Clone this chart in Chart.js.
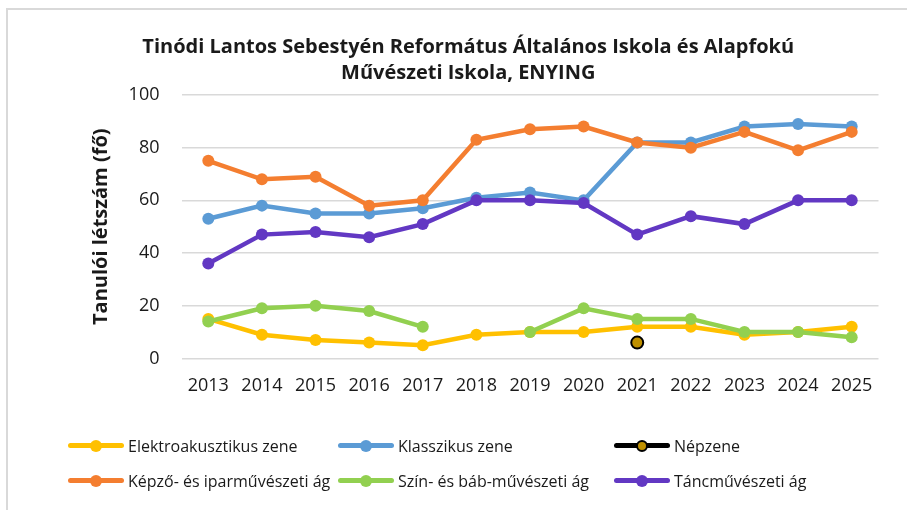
<!DOCTYPE html>
<html>
<head>
<meta charset="utf-8">
<script src="https://cdn.jsdelivr.net/npm/chart.js@4"></script>
<style>
    body { margin: 0; background: #fff; font-family: "Open Sans", sans-serif; }
    #wrap { position: relative; width: 907px; height: 510px; }
    #frame { position: absolute; left: 6px; top: 8px; right: 0; bottom: 0;
             border-left: 2px solid #d9d9d9; border-top: 2px solid #d9d9d9; }
    #myChart { position: absolute; left: 0; top: 0; }
    #legend { position: absolute; left: 68px; top: 428px; display: grid;
              grid-template-columns: 270px 276px auto; grid-auto-rows: 35px; }
    .item { display: flex; align-items: center; font-size: 16px; color: #1a1a1a; }
    .mark { position: relative; width: 56px; height: 14px; margin-right: 4px; }
    .mark .ln { position: absolute; left: 0; right: 0; top: 4.5px; height: 5px; border-radius: 3px; }
    .mark .dt { position: absolute; left: 22px; top: 1px; width: 12px; height: 12px; border-radius: 50%; box-sizing: border-box; }
</style>
</head>
<body>
<div id="wrap">
    <div id="frame"></div>
    <canvas id="myChart" width="907" height="510"></canvas>
    <div id="legend"></div>
</div>
<script>
var years = ['2013', '2014', '2015', '2016', '2017', '2018', '2019', '2020', '2021', '2022', '2023', '2024', '2025'];
var elektro   = [15, 9, 7, 6, 5, 9, 10, 10, 12, 12, 9, 10, 12];
var klasszikus = [53, 58, 55, 55, 57, 61, 63, 60, 82, 82, 88, 89, 88];
var nepzene   = [null, null, null, null, null, null, null, null, 6, null, null, null, null];
var kepzo     = [75, 68, 69, 58, 60, 83, 87, 88, 82, 80, 86, 79, 86];
var szin      = [14, 19, 20, 18, 12, null, 10, 19, 15, 15, 10, 10, 8];
var tanc      = [36, 47, 48, 46, 51, 60, 60, 59, 47, 54, 51, 60, 60];
var yTicks = [0, 20, 40, 60, 80, 100];

function series(label, data, color, order) {
    return {
        label: label,
        data: data,
        borderColor: color,
        backgroundColor: color,
        pointBackgroundColor: color,
        pointBorderColor: color,
        borderWidth: 4.5,
        pointRadius: 6,
        pointBorderWidth: 0,
        spanGaps: false,
        order: order
    };
}

var nep = series('Népzene', nepzene, '#000000', 4);
nep.pointBackgroundColor = '#BF9000';
nep.pointBorderColor = '#000000';
nep.pointBorderWidth = 2;
nep.pointRadius = 6;

var ctx = document.getElementById('myChart').getContext('2d');
var chart = new Chart(ctx, {
    type: 'line',
    data: {
        labels: years,
        datasets: [
            series('Elektroakusztikus zene', elektro, '#FFC000', 6),
            series('Klasszikus zene', klasszikus, '#5B9BD5', 5),
            nep,
            series('Képző- és iparművészeti ág', kepzo, '#F47E30', 3),
            series('Szín- és báb-művészeti ág', szin, '#92D050', 2),
            series('Táncművészeti ág', tanc, '#6238C3', 1)
        ]
    },
    options: {
        responsive: false,
        animation: false,
        layout: { padding: { left: 58, right: 28.5, top: 34, bottom: 104 } },
        plugins: {
            legend: { display: false },
            tooltip: { enabled: false },
            title: {
                display: true,
                text: ['Tinódi Lantos Sebestyén Református Általános Iskola és Alapfokú', 'Művészeti Iskola, ENYING'],
                color: '#1a1a1a',
                font: { family: 'Open Sans', size: 20, weight: 'bold', lineHeight: 1.3 },
                padding: { top: 0, bottom: 9 }
            }
        },
        scales: {
            x: {
                offset: true,
                grid: { display: false },
                border: { display: false },
                ticks: { color: '#1a1a1a', font: { family: 'Open Sans', size: 18 }, padding: 9, maxRotation: 0 }
            },
            y: {
                min: 0,
                max: 100,
                afterBuildTicks: function (scale) {
                    scale.ticks = yTicks.map(function (v) { return { value: v }; });
                },
                afterFit: function (scale) { scale.width = 123.5; },
                grid: { color: '#d9d9d9', lineWidth: 1.5, drawTicks: false },
                border: { display: false },
                ticks: { color: '#1a1a1a', font: { family: 'Open Sans', size: 18 }, padding: 22 },
                title: {
                    display: true,
                    text: 'Tanulói létszám (fő)',
                    color: '#1a1a1a',
                    font: { family: 'Open Sans', size: 20, weight: 'bold' },
                    padding: { top: 31, bottom: 4 }
                }
            }
        }
    }
});

// html legend, laid out like the original 3x2 grid
var $legend = document.getElementById('legend');
chart.data.datasets.forEach(function (ds) {
    var item = document.createElement('div');
    item.className = 'item';
    var mark = document.createElement('span');
    mark.className = 'mark';
    var ln = document.createElement('span');
    ln.className = 'ln';
    ln.style.background = ds.borderColor;
    var dt = document.createElement('span');
    dt.className = 'dt';
    dt.style.background = ds.pointBackgroundColor;
    if (ds.pointBorderWidth) dt.style.border = '2px solid ' + ds.pointBorderColor;
    mark.appendChild(ln);
    mark.appendChild(dt);
    item.appendChild(mark);
    item.appendChild(document.createTextNode(ds.label));
    $legend.appendChild(item);
});
</script>
</body>
</html>
